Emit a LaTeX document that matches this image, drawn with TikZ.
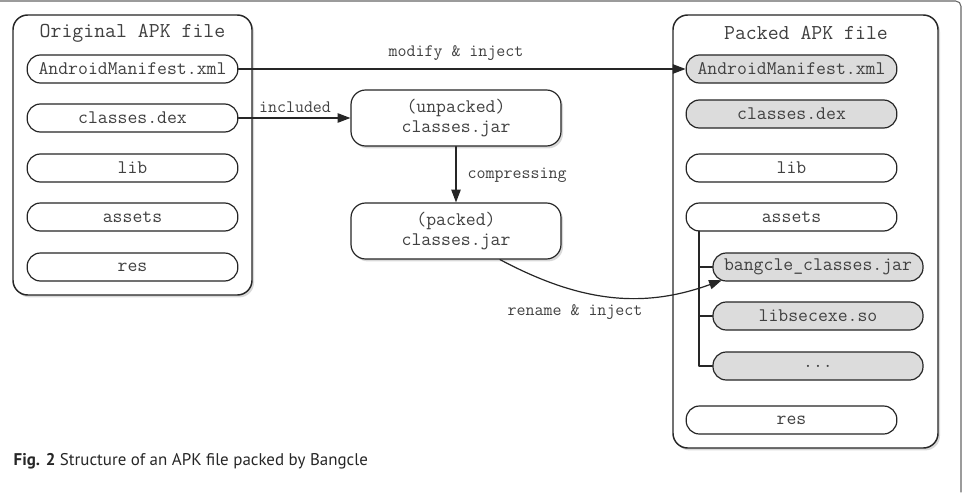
\documentclass[tikz,border=0pt]{standalone}
\usepackage{fontspec}
\setsansfont{PT Sans}
\usetikzlibrary{arrows.meta,shadows}
\definecolor{newgray}{HTML}{DCDCDC}
\tikzset{
  apkbox/.style={draw=black!85, line width=1.1pt, rounded corners=11pt, fill=white,
    drop shadow={shadow xshift=1.5pt, shadow yshift=-1.8pt, opacity=.3}},
  entry/.style={draw=black!85, line width=.9pt, rounded corners=10pt, fill=white,
    minimum width=158pt, minimum height=21pt, inner sep=0pt,
    font=\ttfamily\fontsize{14.4}{16}\selectfont, text=black!75},
  newentry/.style={entry, fill=newgray},
  jarbox/.style={entry, minimum width=157.5pt, minimum height=42pt, rounded corners=11pt,
    align=center, font=\ttfamily\fontsize{14.4}{15}\selectfont,
    drop shadow={shadow xshift=1.5pt, shadow yshift=-1.8pt, opacity=.3}},
  boxtitle/.style={font=\ttfamily\fontsize{15.9}{18}\selectfont, text=black!75},
  flow/.style={-{Triangle[length=9.5pt,width=7pt]}, line width=.9pt, draw=black!85},
  lbl/.style={font=\ttfamily\fontsize{13.1}{15}\selectfont, text=black!75},
}
\begin{document}
\begin{tikzpicture}[x=0.75pt, y=-0.75pt, line cap=round, line join=round]
  \useasboundingbox (0,0) rectangle (966,492);
  % frame of the figure
  \draw[black!60, line width=.8pt, rounded corners=4pt] (0,1) -- (961,1) -- (961,492);

  % original apk
  \draw[apkbox] (13,15) rectangle (252,295);
  \node[boxtitle] (oTitle) at (132.5,33) {Original APK file};
  \node[entry] (oManifest) at (132.5,69) {AndroidManifest.xml};
  \node[entry] (oDex) at (132.5,118) {classes.dex};
  \node[entry] (oLib) at (132.5,168) {lib};
  \node[entry] (oAssets) at (132.5,217) {assets};
  \node[entry] (oRes) at (132.5,267) {res};

  % packed apk
  \draw[apkbox] (673,15) rectangle (938,448);
  \node[boxtitle] (pTitle) at (806,33) {Packed APK file};
  \node[newentry] (pManifest) at (791.5,69) {AndroidManifest.xml};
  \node[newentry] (pDex) at (791.5,114) {classes.dex};
  \node[entry] (pLib) at (791.5,168) {lib};
  \node[entry] (pAssets) at (791.5,217) {assets};
  \node[newentry, minimum width=157.5pt] (pJar) at (818,267) {bangcle\_classes.jar};
  \node[newentry, minimum width=157.5pt] (pSo) at (818,316) {libsecexe.so};
  \node[newentry, minimum width=157.5pt] (pMore) at (818,366) {...};
  \node[entry] (pRes) at (791.5,420) {res};
  \coordinate (tree) at (699,231);
  \draw[black!85, line width=.9pt] (tree) |- (pJar.west) (tree) |- (pSo.west) (tree) |- (pMore.west);

  % middle
  \node[jarbox] (unpacked) at (456,118) {(unpacked)\\classes.jar};
  \node[jarbox] (packedjar) at (456,231) {(packed)\\classes.jar};

  \draw[flow] (oManifest) -- (pManifest);
  \node[lbl] (lModify) at (456,53) {modify \& inject};
  \draw[flow] (oDex) -- (unpacked);
  \node[lbl] (lIncluded) at (295,107) {included};
  \draw[flow] (unpacked) -- (packedjar);
  \node[lbl, anchor=west] (lCompress) at (463,175) {compressing};
  \draw[flow] ([xshift=33pt]packedjar.south) to[out=-28, in=200] ([xshift=7pt, yshift=1pt]pJar.south west);
  \node[lbl] (lRename) at (575,312) {rename \& inject};

  \node[anchor=base west, font=\sffamily\fontsize{12.7}{14}\selectfont, text=black!85] (caption) at (9,465)
    {\textbf{Fig. 2} Structure of an APK file packed by Bangcle};
\end{tikzpicture}
\end{document}
